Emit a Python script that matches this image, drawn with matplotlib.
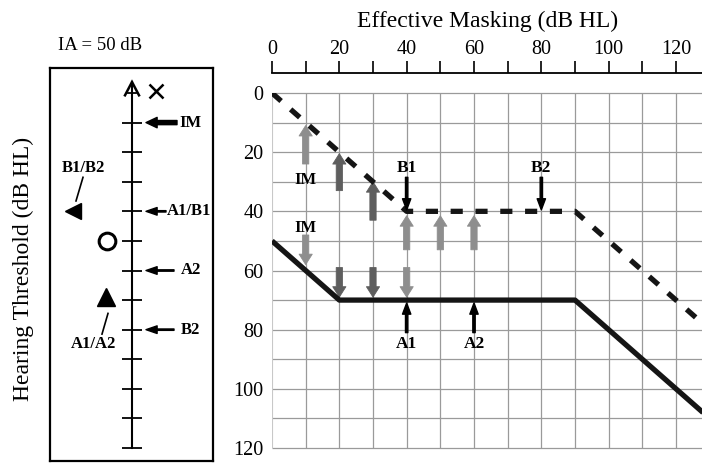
import matplotlib
matplotlib.use("Agg")
import matplotlib.pyplot as plt
import numpy as np

# ---------------- data ----------------
solid_x = [0, 20, 90, 130]
solid_y = [50, 70, 70, 110]
dash_x = [0, 40, 90, 130]
dash_y = [0, 40, 40, 80]

up_x = [10, 20, 30, 40, 50, 60]
up_from = [24, 33, 43, 53, 53, 53]
up_to = [11, 20.5, 30, 41.5, 41.5, 41.5]
up_dark = [False, True, True, False, False, False]

down_x = [10, 20, 30, 40]
down_from = [48, 59, 59, 59]
down_to = [58, 69, 69, 69]
down_dark = [False, True, True, False]

blk_labels = ["B1", "B2", "A1", "A2"]
blk_x = [40, 80, 40, 60]
blk_from = [28.5, 28.5, 81, 81]
blk_to = [39.5, 39.5, 71, 71]
blk_label_y = [25.5, 25.5, 85, 85]

im_x = [10, 10]
im_y = [29.5, 45.5]

x_ticks = [0, 20, 40, 60, 80, 100, 120]
x_minor = [10, 30, 50, 70, 90, 110]
y_ticks = [0, 20, 40, 60, 80, 100, 120]

left_arrow_labels = ["IM", "A1/B1", "A2", "B2"]
left_arrow_levels = [10, 40, 60, 80]
left_tri_level = 40      # left-pointing filled triangle
left_circle_level = 50   # open circle
left_up_level = 69       # filled up triangle

# ---------------- layout ----------------
W, H = 702, 465
fig = plt.figure(figsize=(W / 100, H / 100), dpi=100)
serif = "Liberation Serif"
plt.rcParams["font.family"] = serif

x0_px, xr_px = 272, 702
y0_px, y120_px = 93, 448
px_per_x = (676 - 272) / 120.0
xmax = (xr_px - x0_px) / px_per_x
ax = fig.add_axes([x0_px / W, 1 - y120_px / H, (xr_px - x0_px) / W, (y120_px - y0_px) / H])
ax.set_xlim(0, xmax)
ax.set_ylim(120, 0)
ax.patch.set_visible(False)

for s in ["left", "right", "bottom"]:
    ax.spines[s].set_visible(False)
ax.spines["top"].set_position(("outward", 14.4))
ax.spines["top"].set_linewidth(1.3)
ax.xaxis.set_ticks_position("top")
ax.set_xticks(x_ticks)
ax.set_xticks(x_minor, minor=True)
ax.set_xticklabels([str(v) for v in x_ticks])
ax.tick_params(axis="x", which="both", direction="out", length=8.5, width=1.2, pad=1.5,
               labelsize=14.5, top=True, bottom=False)
ax.set_yticks(y_ticks)
ax.set_yticklabels([str(v) for v in y_ticks])
ax.tick_params(axis="y", length=0, pad=6, labelsize=14.5)

grid_c = "#9a9a9a"
ax.hlines(np.arange(0, 121, 10), 0, xmax, color=grid_c, lw=0.9, zorder=1, clip_on=False)
ax.vlines(np.arange(10, 131, 10), 0, 120, color=grid_c, lw=0.9, zorder=1)
ax.vlines([0], 0, 120, color="#c8c8c8", lw=0.8, zorder=1)

ax.plot(solid_x, solid_y, color="#151515", lw=3.8, solid_capstyle="butt", zorder=4)
ax.plot(dash_x, dash_y, color="#151515", lw=3.8, linestyle=(0, (2.3, 2.4)), zorder=4)

light, dark = "#8e8e8e", "#5e5e5e"
fat = "simple,head_length=0.75,head_width=0.95,tail_width=0.45"
for x, f, t, d in zip(up_x, up_from, up_to, up_dark):
    ax.annotate("", xy=(x, t), xytext=(x, f),
                arrowprops=dict(arrowstyle=fat, color=dark if d else light, lw=0.6,
                                shrinkA=0, shrinkB=0, mutation_scale=10), zorder=3)
for x, f, t, d in zip(down_x, down_from, down_to, down_dark):
    ax.annotate("", xy=(x, t), xytext=(x, f),
                arrowprops=dict(arrowstyle=fat, color=dark if d else light, lw=0.6,
                                shrinkA=0, shrinkB=0, mutation_scale=10), zorder=3)

thin = "simple,head_length=0.8,head_width=0.6,tail_width=0.17"
for lab, x, f, t, ly in zip(blk_labels, blk_x, blk_from, blk_to, blk_label_y):
    ax.annotate("", xy=(x, t), xytext=(x, f),
                arrowprops=dict(arrowstyle=thin, color="black", shrinkA=0, shrinkB=0,
                                mutation_scale=10), zorder=5)
    ax.text(x, ly, lab, ha="center", va="center", fontsize=12.5, fontweight="bold",
            family=serif, zorder=5)
for x, y in zip(im_x, im_y):
    ax.text(x, y, "IM", ha="center", va="center", fontsize=12, fontweight="bold",
            family=serif, zorder=5)

fig.text(488 / W, 1 - 21 / H, "Effective Masking (dB HL)", ha="center", va="center",
         fontsize=17, family=serif)
fig.text(23 / W, 1 - 269 / H, "Hearing Threshold (dB HL)", ha="center", va="center",
         rotation=90, fontsize=17, family=serif)
fig.text(100 / W, 1 - 45 / H, "IA = 50 dB", ha="center", va="center", fontsize=13.5,
         family=serif)

# ---------------- left panel ----------------
bx0, bx1, by0, by1 = 50, 213, 68, 461
px_per_y = (y120_px - y0_px) / 120.0
ytop = (by0 - y0_px) / px_per_y
ybot = (by1 - y0_px) / px_per_y
lax = fig.add_axes([bx0 / W, 1 - by1 / H, (bx1 - bx0) / W, (by1 - by0) / H])
lax.set_xlim(0, bx1 - bx0)
lax.set_ylim(ybot, ytop)
lax.set_xticks([])
lax.set_yticks([])
for s in lax.spines.values():
    s.set_linewidth(1.6)

cx = 82
apex = (82 - 93) / px_per_y
lax.plot([cx, cx], [apex, 120], color="black", lw=1.5)
lax.plot([cx - 7, cx, cx + 7], [apex + 4.5, apex, apex + 4.5], color="black", lw=1.8,
         solid_joinstyle="miter")
lax.plot([cx - 4, cx + 4], [0, 0], color="black", lw=1.3)
lax.hlines(np.arange(10, 121, 10), cx - 10, cx + 10, color="black", lw=1.3)
lax.plot([106], [-0.6], marker="x", ms=10, mew=1.8, color="black")

for lab, lvl in zip(left_arrow_labels, left_arrow_levels):
    if lab == "IM":
        style = "simple,head_length=0.8,head_width=0.75,tail_width=0.3"
        x_tail, x_lab = 127, 129
    elif lab == "A1/B1":
        style = "simple,head_length=0.8,head_width=0.55,tail_width=0.1"
        x_tail, x_lab = 116, 117
    else:
        style = "simple,head_length=0.8,head_width=0.55,tail_width=0.1"
        x_tail, x_lab = 124, 131
    lax.annotate("", xy=(96, lvl), xytext=(x_tail, lvl),
                 arrowprops=dict(arrowstyle=style, color="black", shrinkA=0, shrinkB=0,
                                 mutation_scale=10))
    lax.text(x_lab, lvl, lab, ha="left", va="center", fontsize=12, fontweight="bold",
             family=serif)

lax.plot([23], [left_tri_level], marker="<", ms=12, color="black")
lax.plot([57], [left_circle_level], marker="o", ms=12, mfc="white", mec="black", mew=2.2)
lax.plot([56], [left_up_level], marker="^", ms=13, color="black")
lax.text(33, 25.5, "B1/B2", ha="center", va="center", fontsize=12, fontweight="bold",
         family=serif)
lax.plot([33, 26], [28.5, 36.5], color="black", lw=1.2)
lax.text(44, 85, "A1/A2", ha="center", va="center", fontsize=12, fontweight="bold",
         family=serif)
lax.plot([58, 52], [74.5, 81.5], color="black", lw=1.2)

fig.savefig("out.png", dpi=100)
